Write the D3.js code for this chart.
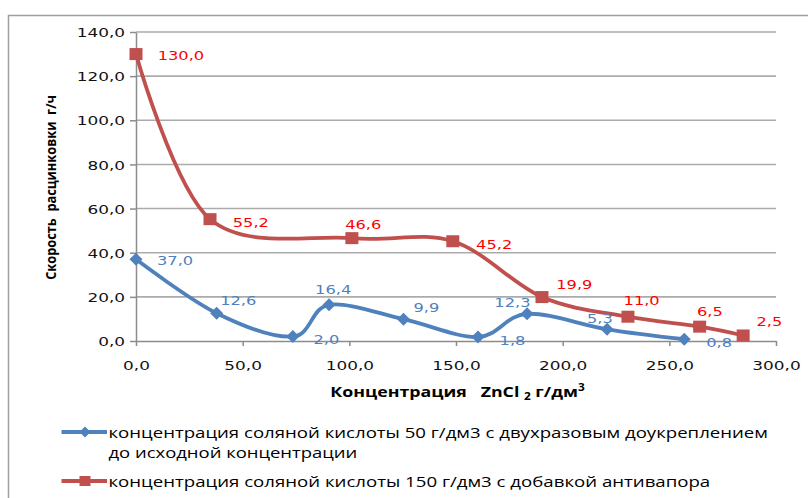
<!DOCTYPE html>
<html><head><meta charset="utf-8">
<script src="https://cdn.jsdelivr.net/npm/d3@7"></script>
<style>
html,body{margin:0;padding:0;background:#fff;}
svg{display:block;}
text{white-space:pre;}
</style></head>
<body>
<svg id="chart" width="808" height="498"></svg>
<script>
// ---------- data ----------
const seriesNames = [
  ["концентрация соляной кислоты 50 г/дм3 с двухразовым доукреплением", "до исходной концентрации"],
  ["концентрация соляной кислоты 150 г/дм3 с добавкой антивапора"]
];
const xBlue = [0, 37.8, 73.5, 90.5, 125.4, 160.3, 183.3, 220.8, 257.0];
const yBlue = [37.0, 12.6, 2.0, 16.4, 9.9, 1.8, 12.3, 5.3, 0.8];
const xRed  = [0, 34.7, 101.2, 148.5, 190.3, 230.6, 264.2, 284.6];
const yRed  = [130.0, 55.2, 46.6, 45.2, 19.9, 11.0, 6.5, 2.5];
const xTicks = [0, 50, 100, 150, 200, 250, 300];
const yTicks = [0, 20, 40, 60, 80, 100, 120, 140];
const xTitle = ["Концентрация   ZnCl ", "2", " г/дм", "3"];
const yTitle = "Скорость  расцинковки  г/ч";

// label placement (left edge offset, vertical centre offset) relative to marker
const blueLabelOff = [[21,1],[3.5,-12.6],[20.6,2.7],[-14,-15.7],[10,-11.7],[21.6,3.7],[-32.7,-11.6],[-20,-10.7],[22,3.3]];
const redLabelOff  = [[21.7,1.5],[22.7,3.4],[-6.7,-14],[23.3,3.3],[14.3,-12.3],[-4.4,-16.7],[-2.6,-15],[13.3,-14]];

const BLUE = "#4F81BD", RED = "#C0504D";
const fmt = v => d3.format(".1f")(v).replace(".", ",");

const svg = d3.select("#chart");
svg.append("rect").attr("width",808).attr("height",498).attr("fill","#fff");
// outer chart border
svg.append("rect").attr("x",8.5).attr("y",15.5).attr("width",820).attr("height",500)
  .attr("fill","none").attr("stroke","#A0A0A0").attr("stroke-width",1.5);

const x = d3.scaleLinear().domain([0,300]).range([136,776]);
const y = d3.scaleLinear().domain([0,140]).range([341,32]);

// gridlines
svg.append("g").selectAll("line").data(yTicks.filter(d=>d>0)).join("line")
  .attr("x1",x(0)).attr("x2",x(300)).attr("y1",d=>y(d)).attr("y2",d=>y(d))
  .attr("stroke","#ABABAB").attr("stroke-width",1.6);

// y axis
const gy = svg.append("g").attr("transform",`translate(${x(0)},0)`)
  .call(d3.axisLeft(y).tickValues(yTicks).tickSize(6).tickSizeOuter(0).tickFormat(fmt));
gy.select(".domain").attr("stroke","#8C8C8C").attr("stroke-width",1.5);
gy.selectAll(".tick line").attr("stroke","#8C8C8C").attr("stroke-width",1.5);
gy.selectAll(".tick text").attr("font-family","DejaVu Sans").attr("font-size",13).attr("fill","#111")
  .attr("x",-11/1.3).attr("dy","0.36em").attr("transform","scale(1.3,1)");

// x axis
const gx = svg.append("g").attr("transform",`translate(0,${y(0)})`)
  .call(d3.axisBottom(x).tickValues(xTicks).tickSize(5).tickSizeOuter(0).tickFormat(fmt));
gx.select(".domain").attr("stroke","#8C8C8C").attr("stroke-width",1.5);
gx.selectAll(".tick line").attr("stroke","#8C8C8C").attr("stroke-width",1.5);
gx.selectAll(".tick text").attr("font-family","DejaVu Sans").attr("font-size",13).attr("fill","#111")
  .attr("y",29).attr("dy","0").attr("transform","scale(1.3,1)");
svg.selectAll(".domain").attr("fill","none");

// fit helper: scale a text horizontally to a target width
function fitText(t, cx, cy, target, anchor, rot, across){
  const w = t.node().getComputedTextLength();
  const s = target / w;
  t.attr("text-anchor", anchor).attr("x",0).attr("y",0)
   .attr("transform", `translate(${cx},${cy})` + (rot? ` rotate(${rot})`:"") + ` scale(${s},${across||1})`);
}

// x title
const xt = svg.append("text").attr("font-family","Open Sans").attr("font-weight","bold").attr("font-size",15).attr("fill","#000");
xt.append("tspan").text(xTitle[0]);
xt.append("tspan").attr("font-size",10).attr("dy",3).text(xTitle[1]);
xt.append("tspan").attr("dy",-3).text(xTitle[2]);
xt.append("tspan").attr("font-size",10).attr("dy",-6).text(xTitle[3]);
{
  const w = xt.node().getBBox().width;
  const s = 255 / w;
  xt.attr("text-anchor","middle").attr("transform",`translate(457.5,396.5) scale(${s},1)`);
}

// y title
const yt = svg.append("text").attr("font-family","Open Sans").attr("font-weight","bold").attr("font-size",13).attr("fill","#000").text(yTitle);
fitText(yt, 55.5, 187.5, 185, "middle", -90, 1.15);

// lines
const line = d3.line().x(d=>x(d[0])).y(d=>y(d[1])).curve(d3.curveCardinal.tension(0));
const blueData = xBlue.map((v,i)=>[v,yBlue[i]]);
const redData = xRed.map((v,i)=>[v,yRed[i]]);

svg.append("path").datum(blueData).attr("d",line).attr("fill","none").attr("stroke",BLUE).attr("stroke-width",3.8).attr("stroke-linejoin","round");
svg.append("path").datum(redData).attr("d",line).attr("fill","none").attr("stroke",RED).attr("stroke-width",3.8).attr("stroke-linejoin","round");

// markers
const dia = (cx,cy,r)=>`M${cx},${cy-r}L${cx+r},${cy}L${cx},${cy+r}L${cx-r},${cy}Z`;
svg.append("g").selectAll("path").data(blueData).join("path")
  .attr("d",d=>dia(x(d[0]),y(d[1]),6.5)).attr("fill",BLUE);
svg.append("g").selectAll("rect").data(redData).join("rect")
  .attr("x",d=>x(d[0])-6.5).attr("y",d=>y(d[1])-6).attr("width",13).attr("height",12).attr("fill",RED);

// data labels
function labels(data, offs, color){
  svg.append("g").selectAll("text").data(data).join("text")
    .attr("font-family","DejaVu Sans").attr("font-size",13).attr("fill",color)
    .attr("dy","0.36em")
    .attr("transform",(d,i)=>`translate(${x(d[0])+offs[i][0]},${y(d[1])+offs[i][1]}) scale(1.25,1)`)
    .text(d=>fmt(d[1]));
}
labels(blueData, blueLabelOff, "#4F81BD");
labels(redData, redLabelOff, "#FF0000");

// legend
const lg = svg.append("g");
lg.append("line").attr("x1",61.5).attr("x2",107).attr("y1",432).attr("y2",432).attr("stroke",BLUE).attr("stroke-width",4);
lg.append("path").attr("d",dia(85,432,5.5)).attr("fill",BLUE);
lg.append("line").attr("x1",61.5).attr("x2",107).attr("y1",481).attr("y2",481).attr("stroke",RED).attr("stroke-width",4);
lg.append("rect").attr("x",79.5).attr("y",476).attr("width",11).attr("height",10).attr("fill",RED);

const legendLines = [[seriesNames[0][0],438,660],[seriesNames[0][1],458,249],[seriesNames[1][0],487,602]];
legendLines.forEach(([txt,by,w])=>{
  const t = lg.append("text").attr("font-family","Open Sans").attr("font-size",14.5).attr("fill","#000").text(txt);
  fitText(t, 108.5, by, w, "start");
});
</script>
</body></html>
